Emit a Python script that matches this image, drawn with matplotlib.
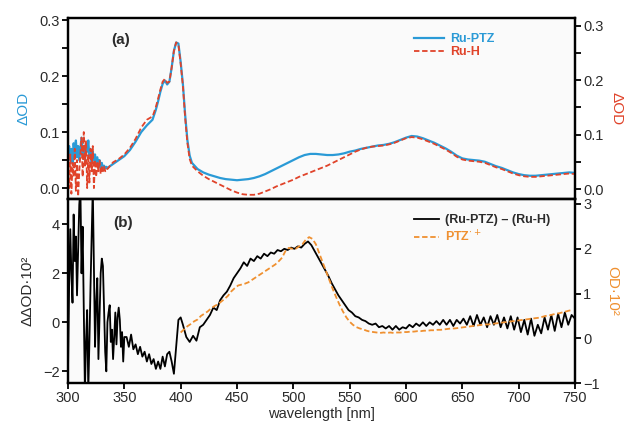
import numpy as np
import matplotlib
matplotlib.use("Agg")
import matplotlib.pyplot as plt

# ---- panel (a): Ru-PTZ / Ru-H transient spectra ----
wl_a = np.concatenate([np.arange(300, 336), np.arange(340, 376, 5),
                       np.arange(376, 411, 2), np.arange(415, 751, 5)])

ru_ptz = [0.06, 0.075, 0.05, 0.07, 0.045, 0.08, 0.06, 0.085, 0.055, 0.075,
          0.05, 0.07, 0.09, 0.06, 0.075, 0.05, 0.08, 0.065, 0.085, 0.055,
          0.07, 0.045, 0.065, 0.05, 0.06, 0.04, 0.055, 0.04, 0.05, 0.035,
          0.045, 0.035, 0.04, 0.035, 0.038, 0.036,
          0.043, 0.05, 0.057, 0.068, 0.083, 0.1, 0.112, 0.122,
          0.128, 0.14, 0.155, 0.172, 0.186, 0.192, 0.185, 0.19, 0.215,
          0.245, 0.26, 0.258, 0.225, 0.185, 0.13, 0.085, 0.058, 0.045,
          0.034, 0.028, 0.024, 0.021, 0.018, 0.016, 0.015, 0.014, 0.015,
          0.016, 0.018, 0.021, 0.025, 0.03, 0.035, 0.04, 0.045, 0.05,
          0.055, 0.059, 0.061, 0.061, 0.06, 0.059, 0.059, 0.06, 0.062,
          0.065, 0.067, 0.07, 0.072, 0.074, 0.076, 0.077, 0.079, 0.082,
          0.086, 0.09, 0.093, 0.092, 0.089, 0.085, 0.081, 0.076, 0.071,
          0.065, 0.058, 0.053, 0.051, 0.05, 0.049, 0.047, 0.043, 0.039,
          0.036, 0.032, 0.028, 0.025, 0.023, 0.022, 0.022, 0.023, 0.024,
          0.025, 0.026, 0.027, 0.028, 0.027]

ru_h = [0.05, 0.0, 0.06, -0.01, 0.045, 0.02, 0.07, -0.005, 0.05, -0.015,
        0.03, 0.06, 0.09, 0.02, 0.1, 0.04, 0.085, 0.0, 0.06, 0.01,
        0.07, 0.03, 0.075, 0.0, 0.05, 0.02, 0.045, 0.03, 0.05, 0.025,
        0.04, 0.03, 0.038, 0.03, 0.035, 0.034,
        0.046, 0.052, 0.06, 0.072, 0.088, 0.108, 0.122, 0.128,
        0.133, 0.145, 0.16, 0.176, 0.19, 0.195, 0.188, 0.19, 0.215,
        0.245, 0.26, 0.256, 0.222, 0.182, 0.125, 0.08, 0.052, 0.04,
        0.03, 0.022, 0.016, 0.011, 0.006, 0.001, -0.004, -0.008, -0.011,
        -0.012, -0.012, -0.01, -0.006, -0.002, 0.003, 0.007, 0.011, 0.015,
        0.02, 0.024, 0.028, 0.032, 0.036, 0.04, 0.045, 0.05, 0.055,
        0.06, 0.065, 0.069, 0.072, 0.074, 0.075, 0.076, 0.078, 0.081,
        0.085, 0.089, 0.091, 0.09, 0.087, 0.083, 0.079, 0.074, 0.069,
        0.063, 0.056, 0.051, 0.049, 0.048, 0.047, 0.045, 0.041, 0.037,
        0.034, 0.03, 0.026, 0.023, 0.021, 0.02, 0.02, 0.021, 0.022,
        0.023, 0.024, 0.025, 0.026, 0.025]

# ---- panel (b): difference spectrum (x100) and PTZ radical cation ----
wl_diff = np.concatenate([np.arange(300, 351), np.arange(352, 401, 2),
                          np.arange(402, 751, 3)])

diff = [-2.0, 1.5, 3.8, 2.0, 0.8, 4.4, 2.5, 3.5, 1.1, 3.0,
        4.8, 5.5, 2.0, 3.9, 0.5, -2.8, -0.8, 0.5, -2.8, -0.8,
        1.5, 3.5, 5.5, 2.2, -1.0, 0.8, 1.8, -1.5, 0.2, 2.0,
        2.6, 2.3, 0.5, -1.2, -2.0, 0.0, 0.4, 0.7, -0.8, -0.3,
        -1.5, -0.6, 0.4, -0.9, 0.2, 0.6, 0.1, -1.0, -0.4, -1.6, -0.6,
        -0.6, -1.0, -0.5, -1.1, -0.9, -1.3, -1.0, -1.4, -1.2, -1.6,
        -1.3, -1.7, -1.5, -1.9, -1.6, -1.9, -1.4, -1.8, -1.3, -1.2,
        -1.6, -2.1, -1.0, 0.1, 0.2,
        -0.1, -0.6, -0.8, -0.55, -0.75, -0.2, -0.1, 0.1, 0.3, 0.6,
        0.5, 0.9, 1.1, 1.25, 1.5, 1.8, 2.0, 2.2, 2.45, 2.3,
        2.6, 2.5, 2.7, 2.6, 2.8, 2.7, 2.85, 2.8, 2.95, 2.9,
        3.0, 2.95, 3.05, 3.0, 3.1, 3.05, 3.2, 3.3, 3.15, 2.9,
        2.65, 2.4, 2.15, 1.9, 1.6, 1.35, 1.1, 0.9, 0.7, 0.5,
        0.4, 0.25, 0.2, 0.1, 0.05, -0.05, -0.1, -0.05, -0.2, -0.15,
        -0.25, -0.15, -0.3, -0.15, -0.3, -0.2, -0.25, -0.1, -0.2, -0.05,
        -0.15, 0.0, -0.15, 0.0, -0.1, 0.05, -0.1, 0.1, -0.1, 0.1,
        -0.15, 0.1, -0.05, 0.15, -0.1, 0.25, -0.15, 0.3, -0.1, 0.2,
        -0.2, 0.25, -0.1, 0.3, -0.2, 0.2, -0.25, 0.25, -0.3, 0.2,
        -0.4, 0.1, -0.5, 0.15, -0.55, -0.1, -0.45, 0.2, -0.3, 0.3,
        -0.35, 0.35, -0.2, 0.4, -0.1, 0.3, 0.15]

wl_ptz = np.arange(400, 749, 3)
ptz = [0.13, 0.2, 0.27, 0.32, 0.38, 0.42, 0.5, 0.55, 0.6, 0.67,
       0.72, 0.76, 0.82, 0.88, 0.95, 1.05, 1.12, 1.18, 1.2, 1.22,
       1.25, 1.3, 1.35, 1.4, 1.45, 1.5, 1.55, 1.6, 1.65, 1.72,
       1.8, 1.95, 2.02, 2.0, 2.0, 2.05, 2.1, 2.2, 2.26, 2.22,
       2.1, 1.9, 1.7, 1.5, 1.3, 1.1, 0.92, 0.75, 0.6, 0.47,
       0.37, 0.3, 0.25, 0.22, 0.2, 0.17, 0.15, 0.14, 0.13, 0.12,
       0.13, 0.12, 0.13, 0.12, 0.13, 0.13, 0.14, 0.14, 0.15, 0.15,
       0.16, 0.16, 0.17, 0.17, 0.18, 0.18, 0.19, 0.19, 0.2, 0.21,
       0.22, 0.22, 0.23, 0.24, 0.25, 0.26, 0.27, 0.28, 0.29, 0.3,
       0.31, 0.31, 0.32, 0.33, 0.34, 0.35, 0.36, 0.37, 0.38, 0.39,
       0.4, 0.41, 0.42, 0.43, 0.44, 0.45, 0.46, 0.48, 0.5, 0.51,
       0.53, 0.55, 0.56, 0.58, 0.6, 0.62, 0.63]

BLUE = "#2a9ad6"
RED = "#e0432a"
ORANGE = "#ef9030"
TXT = "#2b2b2b"

plt.rcParams["font.family"] = ["Liberation Sans", "DejaVu Sans"]
plt.rcParams["font.size"] = 10

fig = plt.figure(figsize=(6.32, 4.29), dpi=100)
ax_a = fig.add_axes([0.1076, 0.536, 0.8022, 0.422])
ax_b = fig.add_axes([0.1076, 0.107, 0.8022, 0.429])
ax_a2 = ax_a.twinx()
ax_b2 = ax_b.twinx()

for ax in (ax_a, ax_b):
    ax.set_facecolor("#fafafa")

ax_a.plot(wl_a, ru_ptz, color=BLUE, lw=1.6, label="Ru-PTZ", zorder=2)
ax_a.plot(wl_a, ru_h, color=RED, lw=1.3, ls=(0, (3, 1.5)), label="Ru-H", zorder=3)

l_ptz, = ax_b2.plot(wl_ptz, ptz, color=ORANGE, lw=1.3, ls=(0, (3, 1.5)),
                    label="PTZ$^{\\cdot+}$")
l_diff, = ax_b.plot(wl_diff, diff, color="black", lw=1.3,
                    label="(Ru-PTZ) \u2013 (Ru-H)")

ax_a.set_xlim(300, 750)
ax_b.set_xlim(300, 750)
ax_a.set_ylim(-0.0196, 0.3036)
ax_a2.set_ylim(-0.018, 0.314)
ax_b.set_ylim(-2.48, 5.03)
ax_b2.set_ylim(-1, 3.11)

ax_a.set_yticks(np.arange(0, 0.31, 0.05))
ax_a.set_yticklabels(["0.0", "", "0.1", "", "0.2", "", "0.3"])
ax_a2.set_yticks(np.arange(0, 0.31, 0.05))
ax_a2.set_yticklabels(["0.0", "", "0.1", "", "0.2", "", "0.3"])
ax_b.set_yticks([-2, 0, 2, 4])
ax_b2.set_yticks([-1, 0, 1, 2, 3])
ax_b.set_xticks(np.arange(300, 751, 50))
ax_a.set_xticks([])

for ax in (ax_a, ax_a2, ax_b, ax_b2):
    for s in ax.spines.values():
        s.set_linewidth(1.6)
    ax.tick_params(direction="out", length=4, width=1.3, colors="black",
                   labelcolor=TXT, labelsize=10.5, pad=2)

ax_a.set_ylabel("\u0394OD", color=BLUE, fontsize=11, labelpad=6)
ax_a2.set_ylabel("\u0394OD", color=RED, fontsize=11, rotation=270, labelpad=14)
ax_b.set_ylabel("\u0394\u0394OD\u00b710\u00b2", color=TXT, fontsize=11, labelpad=6)
ax_b2.set_ylabel("OD\u00b710\u00b2", color=ORANGE, fontsize=11, rotation=270,
                 labelpad=14)
ax_b.set_xlabel("wavelength [nm]", color=TXT, fontsize=10.5, labelpad=1)

ax_a.text(0.085, 0.88, "(a)", transform=ax_a.transAxes, fontsize=11,
          fontweight="bold", color=TXT, va="center")
ax_b.text(0.09, 0.87, "(b)", transform=ax_b.transAxes, fontsize=11,
          fontweight="bold", color=TXT, va="center")

leg_a = ax_a.legend(loc="upper left", bbox_to_anchor=(0.66, 0.98), frameon=False,
                    handlelength=2.4, handletextpad=0.5, labelspacing=0.1,
                    prop={"weight": "bold", "size": 9}, labelcolor="linecolor")
leg_b = ax_b2.legend([l_diff, l_ptz], [l_diff.get_label(), l_ptz.get_label()],
                     loc="upper left", bbox_to_anchor=(0.66, 0.98), frameon=False,
                     handlelength=2.0, handletextpad=0.5, labelspacing=0.25,
                     prop={"weight": "bold", "size": 9})
leg_b.get_texts()[0].set_color(TXT)
leg_b.get_texts()[1].set_color(ORANGE)

fig.savefig("out.png", dpi=100, facecolor="white")
